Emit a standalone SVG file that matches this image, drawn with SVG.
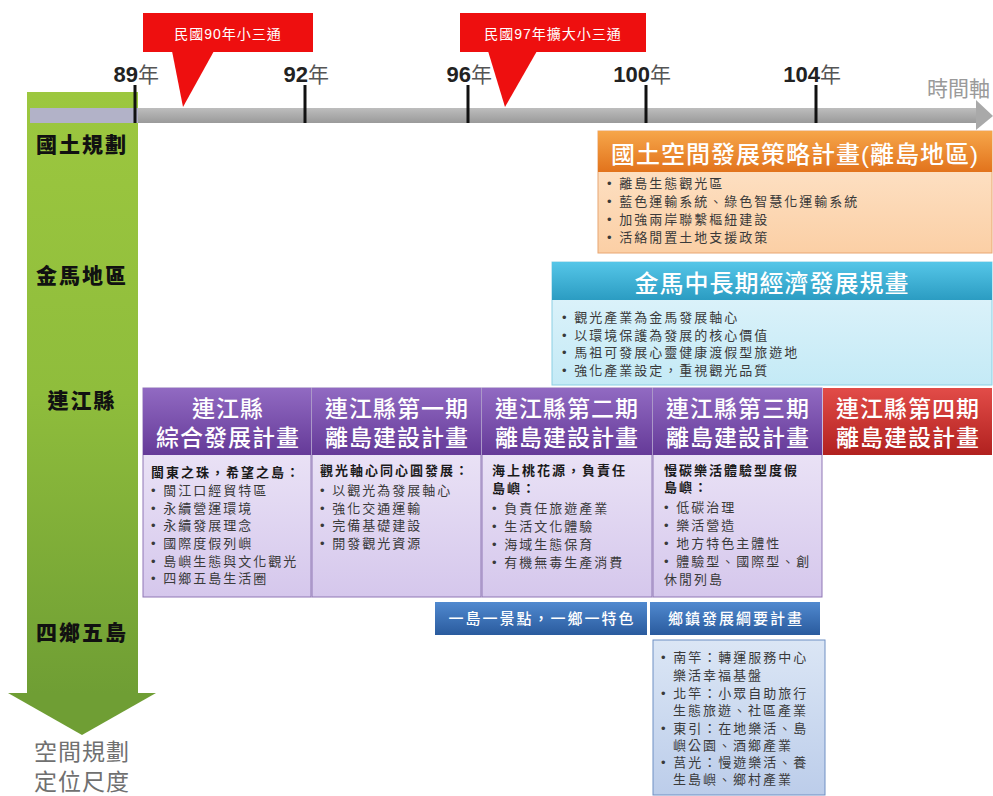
<svg xmlns="http://www.w3.org/2000/svg" width="993" height="796" viewBox="0 0 993 796">
<defs>
<linearGradient id="gGreen" x1="0" y1="0" x2="0" y2="1"><stop offset="0" stop-color="#9cc73f"/><stop offset="0.5" stop-color="#8fbd3c"/><stop offset="1" stop-color="#6f9e34"/></linearGradient>
<linearGradient id="gBar" x1="0" y1="0" x2="0" y2="1"><stop offset="0" stop-color="#bdbdbd"/><stop offset="1" stop-color="#9a9a9a"/></linearGradient>
<linearGradient id="gOrH" x1="0" y1="0" x2="0" y2="1"><stop offset="0" stop-color="#f6a64a"/><stop offset="1" stop-color="#e2731c"/></linearGradient>
<linearGradient id="gOrB" x1="0" y1="0" x2="0" y2="1"><stop offset="0" stop-color="#fee7cf"/><stop offset="1" stop-color="#fbcfa5"/></linearGradient>
<linearGradient id="gCyH" x1="0" y1="0" x2="0" y2="1"><stop offset="0" stop-color="#55c6e8"/><stop offset="1" stop-color="#2b9cc2"/></linearGradient>
<linearGradient id="gCyB" x1="0" y1="0" x2="0" y2="1"><stop offset="0" stop-color="#e4f5fb"/><stop offset="1" stop-color="#c4eaf6"/></linearGradient>
<linearGradient id="gPuH" x1="0" y1="0" x2="0" y2="1"><stop offset="0" stop-color="#916ac2"/><stop offset="1" stop-color="#653a98"/></linearGradient>
<linearGradient id="gPuB" x1="0" y1="0" x2="0" y2="1"><stop offset="0" stop-color="#f3eefa"/><stop offset="1" stop-color="#d5c7ec"/></linearGradient>
<linearGradient id="gReH" x1="0" y1="0" x2="0" y2="1"><stop offset="0" stop-color="#e24c48"/><stop offset="1" stop-color="#b1211f"/></linearGradient>
<linearGradient id="gBlH" x1="0" y1="0" x2="0" y2="1"><stop offset="0" stop-color="#5089cf"/><stop offset="1" stop-color="#2a5b9e"/></linearGradient>
<linearGradient id="gBlB" x1="0" y1="0" x2="0" y2="1"><stop offset="0" stop-color="#dbe6f5"/><stop offset="1" stop-color="#bccdea"/></linearGradient>
</defs>
<style>
text{font-family:"Liberation Sans","Noto Sans CJK TC","Noto Sans CJK SC",sans-serif}
.hdr{fill:#fff;font-weight:500;text-anchor:middle}
.body{font-size:13px;letter-spacing:2px;fill:#3a3a3a}
.lead{fill:#1a1a1a;font-weight:700}
.side{font-size:21px;letter-spacing:2px;font-weight:900;fill:#111;text-anchor:middle}
.num{font-size:22px;font-weight:700;fill:#222;text-anchor:end}
.nian{font-size:21px;fill:#555}
.tick{stroke:#111;stroke-width:3}
.callout{fill:#ee0f0f}
.ctext{font-size:14px;letter-spacing:1px;fill:#fff;text-anchor:middle}
</style>

<g id="axis-scale">
<rect x="27" y="92" width="111" height="602" fill="url(#gGreen)"/>
<polygon points="8,693 156,693 82,735" fill="#6f9e34"/>
<text class="side" x="82" y="152">國土規劃</text>
<text class="side" x="82" y="283">金馬地區</text>
<text class="side" x="82" y="408">連江縣</text>
<text class="side" x="82" y="640">四鄉五島</text>
<text font-size="23" fill="#707070" text-anchor="middle" letter-spacing="1"><tspan x="82" y="760">空間規劃</tspan><tspan x="82" y="790">定位尺度</tspan></text>
</g>

<g id="timeline">
<rect x="30" y="108" width="948" height="15" fill="url(#gBar)"/>
<rect x="30" y="108" width="108" height="15" fill="#b2b2c8"/>
<polygon points="976,100 993,116 976,130" fill="#a9a9a9"/>
<line class="tick" x1="135" y1="85" x2="135" y2="123"/>
<line class="tick" x1="305" y1="85" x2="305" y2="123"/>
<line class="tick" x1="468" y1="85" x2="468" y2="123"/>
<line class="tick" x1="646" y1="85" x2="646" y2="123"/>
<line class="tick" x1="816" y1="85" x2="816" y2="123"/>
<text class="num" x="138" y="82">89</text><text class="nian" x="138" y="82">年</text>
<text class="num" x="308" y="82">92</text><text class="nian" x="308" y="82">年</text>
<text class="num" x="471" y="82">96</text><text class="nian" x="471" y="82">年</text>
<text class="num" x="650" y="82">100</text><text class="nian" x="650" y="82">年</text>
<text class="num" x="820" y="82">104</text><text class="nian" x="820" y="82">年</text>
<text x="990" y="96" font-size="21" fill="#9a9a9a" text-anchor="end">時間軸</text>
</g>

<g id="callout-90">
<rect class="callout" x="143" y="13" width="170" height="39"/>
<polygon class="callout" points="172,51 214,51 183,107"/>
<text class="ctext" x="228" y="39">民國90年小三通</text>
</g>
<g id="callout-97">
<rect class="callout" x="460" y="13" width="186" height="39"/>
<polygon class="callout" points="488,51 537,51 505,107"/>
<text class="ctext" x="553" y="39">民國97年擴大小三通</text>
</g>

<g id="national-plan">
<rect x="598" y="131" width="394" height="122" fill="url(#gOrB)" stroke="#e8a672"/>
<rect x="598" y="131" width="394" height="41" fill="url(#gOrH)"/>
<text class="hdr" x="795" y="163" font-size="24" letter-spacing="1">國土空間發展策略計畫(離島地區)</text>
<text class="body"><tspan x="607" y="188">• 離島生態觀光區</tspan><tspan x="607" y="206">• 藍色運輸系統、綠色智慧化運輸系統</tspan><tspan x="607" y="224">• 加強兩岸聯繫樞紐建設</tspan><tspan x="607" y="242">• 活絡閒置土地支援政策</tspan></text>
</g>

<g id="kinmen-matsu-plan">
<rect x="552" y="262" width="440" height="123" fill="url(#gCyB)" stroke="#8ccfe3"/>
<rect x="552" y="262" width="440" height="38" fill="url(#gCyH)"/>
<text class="hdr" x="772" y="292" font-size="24" letter-spacing="1">金馬中長期經濟發展規畫</text>
<text class="body"><tspan x="562" y="322">• 觀光產業為金馬發展軸心</tspan><tspan x="562" y="340">• 以環境保護為發展的核心價值</tspan><tspan x="562" y="357">• 馬祖可發展心靈健康渡假型旅遊地</tspan><tspan x="562" y="375">• 強化產業設定，重視觀光品質</tspan></text>
</g>

<g id="lienchiang-comprehensive">
<rect x="143" y="388" width="168" height="209" fill="url(#gPuB)" stroke="#8f76b5"/>
<rect x="143" y="388" width="168" height="67" fill="url(#gPuH)"/>
<text class="hdr" font-size="23" letter-spacing="1"><tspan x="228" y="417">連江縣</tspan><tspan x="228" y="446">綜合發展計畫</tspan></text>
<text class="body"><tspan class="lead" x="151" y="477">閩東之珠，希望之島：</tspan><tspan x="151" y="495">• 閩江口經貿特區</tspan><tspan x="151" y="513">• 永續營運環境</tspan><tspan x="151" y="530">• 永續發展理念</tspan><tspan x="151" y="548">• 國際度假列嶼</tspan><tspan x="151" y="566">• 島嶼生態與文化觀光</tspan><tspan x="151" y="583">• 四鄉五島生活圈</tspan></text>
</g>

<g id="lienchiang-phase1">
<rect x="312" y="388" width="169" height="209" fill="url(#gPuB)" stroke="#8f76b5"/>
<rect x="312" y="388" width="169" height="67" fill="url(#gPuH)"/>
<text class="hdr" font-size="23" letter-spacing="1"><tspan x="397" y="417">連江縣第一期</tspan><tspan x="397" y="446">離島建設計畫</tspan></text>
<text class="body"><tspan class="lead" x="320" y="475">觀光軸心同心圓發展：</tspan><tspan x="320" y="495">• 以觀光為發展軸心</tspan><tspan x="320" y="513">• 強化交通運輸</tspan><tspan x="320" y="530">• 完備基礎建設</tspan><tspan x="320" y="548">• 開發觀光資源</tspan></text>
</g>

<g id="lienchiang-phase2">
<rect x="482" y="388" width="170" height="209" fill="url(#gPuB)" stroke="#8f76b5"/>
<rect x="482" y="388" width="170" height="67" fill="url(#gPuH)"/>
<text class="hdr" font-size="23" letter-spacing="1"><tspan x="567" y="417">連江縣第二期</tspan><tspan x="567" y="446">離島建設計畫</tspan></text>
<text class="body"><tspan class="lead" x="492" y="475">海上桃花源，負責任</tspan><tspan class="lead" x="492" y="493">島嶼：</tspan><tspan x="492" y="513">• 負責任旅遊產業</tspan><tspan x="492" y="531">• 生活文化體驗</tspan><tspan x="492" y="549">• 海域生態保育</tspan><tspan x="492" y="567">• 有機無毒生產消費</tspan></text>
</g>

<g id="lienchiang-phase3">
<rect x="653" y="388" width="169" height="209" fill="url(#gPuB)" stroke="#8f76b5"/>
<rect x="653" y="388" width="169" height="67" fill="url(#gPuH)"/>
<text class="hdr" font-size="23" letter-spacing="1"><tspan x="738" y="417">連江縣第三期</tspan><tspan x="738" y="446">離島建設計畫</tspan></text>
<text class="body"><tspan class="lead" x="664" y="475">慢碳樂活體驗型度假</tspan><tspan class="lead" x="664" y="492">島嶼：</tspan><tspan x="664" y="512">• 低碳治理</tspan><tspan x="664" y="530">• 樂活營造</tspan><tspan x="664" y="548">• 地方特色主體性</tspan><tspan x="664" y="566">• 體驗型、國際型、創</tspan><tspan x="664" y="584">休閒列島</tspan></text>
</g>

<g id="lienchiang-phase4">
<rect x="823" y="388" width="169" height="67" fill="url(#gReH)"/>
<text class="hdr" font-size="23" letter-spacing="1"><tspan x="908" y="417">連江縣第四期</tspan><tspan x="908" y="446">離島建設計畫</tspan></text>
</g>

<g id="one-island-one-spot">
<rect x="435" y="602" width="212" height="33" fill="url(#gBlH)"/>
<text class="hdr" x="542" y="624" font-size="15" letter-spacing="2">一島一景點，一鄉一特色</text>
</g>

<g id="township-plan">
<rect x="650" y="602" width="170" height="33" fill="url(#gBlH)"/>
<text class="hdr" x="736" y="624" font-size="15" letter-spacing="2">鄉鎮發展綱要計畫</text>
<rect x="653" y="640" width="172" height="155" fill="url(#gBlB)" stroke="#6f8fc3"/>
<text class="body"><tspan x="661" y="662">• 南竿：轉運服務中心</tspan><tspan x="673" y="680">樂活幸福基盤</tspan><tspan x="661" y="698">• 北竿：小眾自助旅行</tspan><tspan x="673" y="715">生態旅遊、社區產業</tspan><tspan x="661" y="733">• 東引：在地樂活、島</tspan><tspan x="673" y="750">嶼公園、酒鄉產業</tspan><tspan x="661" y="767">• 莒光：慢遊樂活、養</tspan><tspan x="673" y="784">生島嶼、鄉村產業</tspan></text>
</g>

<g id="connectors"></g>
</svg>
